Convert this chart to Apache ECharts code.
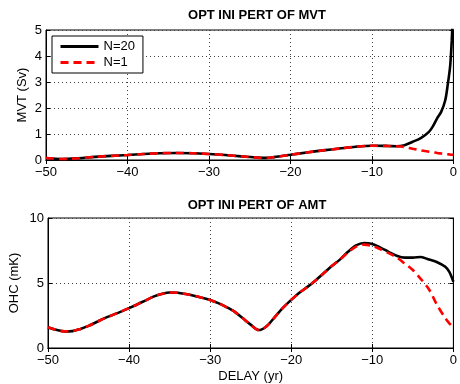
<!DOCTYPE html>
<html>
<head>
<meta charset="utf-8">
<script src="https://cdn.jsdelivr.net/npm/echarts@6/dist/echarts.min.js"></script>
<style>html,body{margin:0;padding:0;background:#fff}#c{width:460px;height:384px}</style>
</head>
<body>
<div id="c"></div>
<script>
// Top panel: MVT (Sv)
const mvtDelay = [-50,-48,-46,-44,-42,-40,-38,-36,-34,-32,-30,-28,-26,-24,-23,-22,-20,-18,-16,-14,-12,-10,-8,-7,-6,-5,-4,-3,-2.5,-2,-1.5,-1,-0.7,-0.4,-0.2,0];
const mvtN20 = [0.08,0.04,0.07,0.12,0.16,0.19,0.23,0.26,0.27,0.26,0.23,0.19,0.14,0.09,0.08,0.11,0.2,0.29,0.37,0.44,0.51,0.55,0.54,0.53,0.57,0.7,0.84,1.08,1.3,1.6,1.85,2.3,2.88,3.6,4.6,6.0];
const mvtN1  = [0.08,0.04,0.07,0.12,0.16,0.19,0.23,0.26,0.27,0.26,0.23,0.19,0.14,0.09,0.08,0.11,0.2,0.29,0.37,0.44,0.51,0.55,0.54,0.53,0.5,0.43,0.37,0.32,0.3,0.27,0.25,0.23,0.22,0.21,0.2,0.2];
// Bottom panel: OHC (mK)
const ohcDelay = [-50,-49,-48,-47,-46,-45,-44,-43,-42,-41,-40,-39,-38,-37,-36,-35,-34,-33,-32,-31,-30,-29,-28,-27,-26,-25,-24,-23,-22,-21,-20,-19,-18,-17,-16,-15,-14,-13,-12,-11,-10,-9,-8,-7,-6,-5,-4,-3,-2,-1,-0.5,0];
const ohcN20 = [1.6,1.4,1.28,1.3,1.47,1.7,2.0,2.3,2.55,2.8,3.07,3.35,3.65,3.95,4.15,4.27,4.25,4.15,4.02,3.86,3.69,3.45,3.15,2.8,2.3,1.8,1.38,1.7,2.4,3.1,3.7,4.25,4.7,5.2,5.75,6.3,6.8,7.4,7.9,8.08,8.0,7.72,7.4,7.1,6.95,6.95,7.0,6.8,6.6,6.25,5.85,5.1];
const ohcN1  = [1.6,1.4,1.28,1.3,1.47,1.7,2.0,2.3,2.55,2.8,3.07,3.35,3.65,3.95,4.15,4.27,4.25,4.15,4.02,3.86,3.69,3.45,3.15,2.8,2.3,1.8,1.38,1.7,2.4,3.1,3.7,4.25,4.7,5.2,5.75,6.3,6.8,7.35,7.8,7.95,7.85,7.6,7.3,6.97,6.5,6.0,5.3,4.5,3.3,2.3,1.9,1.6];
const xTicks = [-50,-40,-30,-20,-10,0];
const titles = ['OPT INI PERT OF MVT','OPT INI PERT OF AMT'];
const yNames = ['MVT (Sv)','OHC (mK)'];
const xName = 'DELAY (yr)';
const seriesNames = ['N=20','N=1'];

const zip = (xs, ys) => xs.map((x, i) => [x, ys[i]]);
const font = 'Liberation Sans, Arial, Helvetica, sans-serif';
const minus = v => String(v).replace('-', '\u2212');

function mainX(gi, withName) {
  return {
    type: 'value', gridIndex: gi, min: xTicks[0], max: xTicks[xTicks.length - 1], interval: 10,
    axisLine: {show: true, onZero: false, lineStyle: {color: '#000', width: 1}},
    axisTick: {show: true, inside: true, length: 4, lineStyle: {color: '#000'}},
    axisLabel: {color: '#000', fontSize: 13, fontFamily: font, margin: 6, formatter: minus},
    splitLine: {show: true, lineStyle: {color: '#444', type: [1, 3], width: 1}},
    name: withName ? xName : '', nameLocation: 'middle', nameGap: 22, nameMoveOverlap: false,
    nameTextStyle: {color: '#000', fontSize: 13, fontFamily: font}
  };
}
function topX(gi) {
  return {
    type: 'value', gridIndex: gi, min: -50, max: 0, interval: 10, position: 'top',
    axisLine: {show: true, lineStyle: {color: '#000'}},
    axisTick: {show: true, inside: true, length: 4, lineStyle: {color: '#000'}},
    axisLabel: {show: false}, splitLine: {show: false}
  };
}
function mainY(gi, max, interval, name, gap) {
  return {
    type: 'value', gridIndex: gi, min: 0, max: max, interval: interval,
    axisLine: {show: true, onZero: false, lineStyle: {color: '#000', width: 1}},
    axisTick: {show: true, inside: true, length: 4, lineStyle: {color: '#000'}},
    axisLabel: {color: '#000', fontSize: 13, fontFamily: font, margin: 4},
    splitLine: {show: true, lineStyle: {color: '#444', type: [1, 3], width: 1}},
    name: name, nameLocation: 'middle', nameGap: gap, nameMoveOverlap: false,
    nameTextStyle: {color: '#000', fontSize: 13, fontFamily: font}
  };
}
function rightY(gi, max, interval) {
  return {
    type: 'value', gridIndex: gi, min: 0, max: max, interval: interval, position: 'right',
    axisLine: {show: true, lineStyle: {color: '#000'}},
    axisTick: {show: true, inside: true, length: 4, lineStyle: {color: '#000'}},
    axisLabel: {show: false}, splitLine: {show: false}
  };
}

const chart = echarts.init(document.getElementById('c'), null, {renderer: 'canvas'});
chart.setOption({
  animation: false,
  backgroundColor: '#fff',
  title: [
    {text: titles[0], left: 252, top: 4, textAlign: 'center', textStyle: {fontSize: 13, fontWeight: 'bold', color: '#000', fontFamily: font}},
    {text: titles[1], left: 252, top: 194, textAlign: 'center', textStyle: {fontSize: 13, fontWeight: 'bold', color: '#000', fontFamily: font}}
  ],
  legend: {
    data: seriesNames, orient: 'vertical', left: 52, top: 36,
    itemWidth: 38, itemHeight: 10, itemGap: 3,
    padding: [4, 8, 4, 7],
    backgroundColor: '#fff', borderColor: '#000', borderWidth: 1,
    itemStyle: {opacity: 0},
    lineStyle: {width: 3},
    textStyle: {fontSize: 13, color: '#000', fontFamily: font},
    selectedMode: false
  },
  grid: [
    {left: 46, right: 3, top: 30, height: 130, show: true, borderColor: '#000', borderWidth: 1, backgroundColor: '#fff'},
    {left: 46, right: 3, top: 218, height: 131, show: true, borderColor: '#000', borderWidth: 1, backgroundColor: '#fff'}
  ],
  xAxis: [mainX(0, false), mainX(1, true), topX(0), topX(1)],
  yAxis: [mainY(0, 5, 1, yNames[0], 17), mainY(1, 10, 5, yNames[1], 27), rightY(0, 5, 1), rightY(1, 10, 5)],
  series: [
    {name: seriesNames[0], type: 'line', xAxisIndex: 0, yAxisIndex: 0, data: zip(mvtDelay, mvtN20), smooth: 0.3, symbol: 'none', clip: true, z: 2,
     lineStyle: {color: '#000', width: 2.6}, itemStyle: {color: '#000'}},
    {name: seriesNames[1], type: 'line', xAxisIndex: 0, yAxisIndex: 0, data: zip(mvtDelay, mvtN1), smooth: 0.3, symbol: 'none', clip: true, z: 3,
     lineStyle: {color: '#ff0000', width: 2.6, type: [8, 5]}, itemStyle: {color: '#ff0000'}},
    {name: seriesNames[0], type: 'line', xAxisIndex: 1, yAxisIndex: 1, data: zip(ohcDelay, ohcN20), smooth: 0.3, symbol: 'none', clip: true, z: 2,
     lineStyle: {color: '#000', width: 2.6}, itemStyle: {color: '#000'}},
    {name: seriesNames[1], type: 'line', xAxisIndex: 1, yAxisIndex: 1, data: zip(ohcDelay, ohcN1), smooth: 0.3, symbol: 'none', clip: true, z: 3,
     lineStyle: {color: '#ff0000', width: 2.6, type: [8, 5]}, itemStyle: {color: '#ff0000'}}
  ]
});
</script>
</body>
</html>
